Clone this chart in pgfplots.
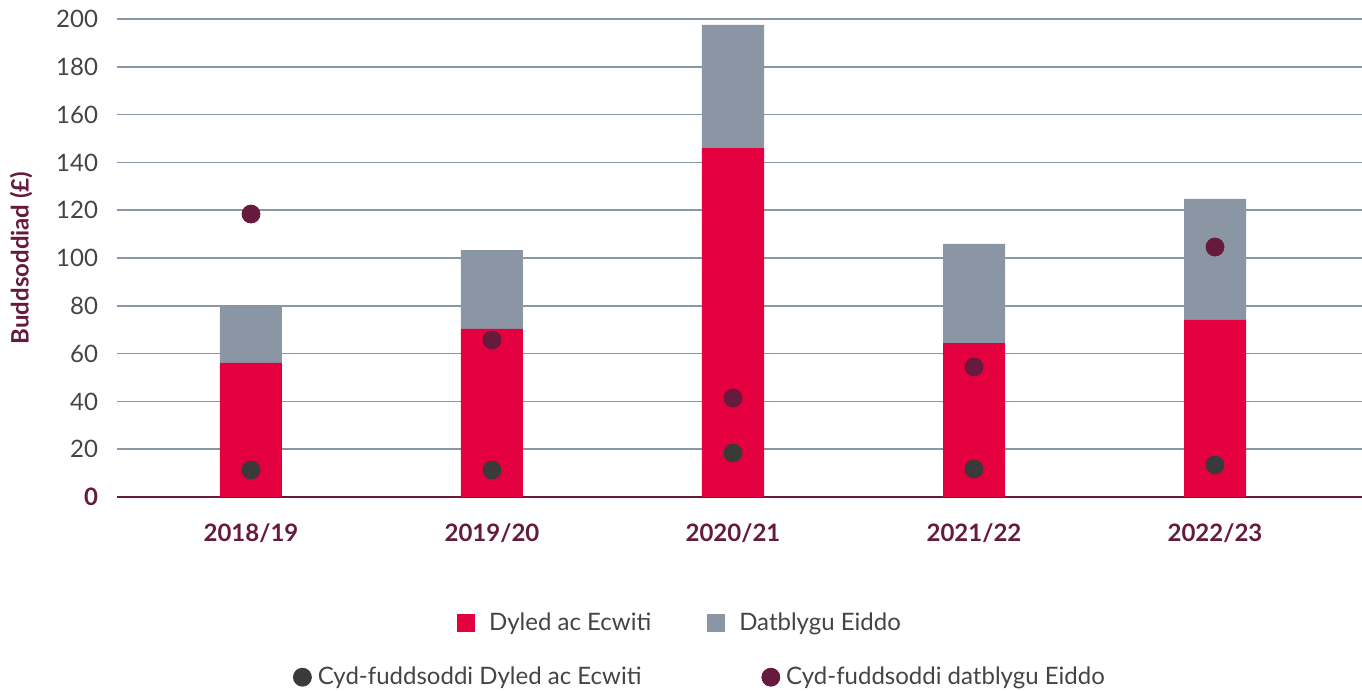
\documentclass[border=0pt]{standalone}
\usepackage{fontspec}
\setmainfont{Lato}
\usepackage{pgfplots}
\pgfplotsset{compat=1.18}

\definecolor{cred}{HTML}{E4003F}
\definecolor{cgrey}{HTML}{8A96A3}
\definecolor{cdark}{HTML}{3A3A3A}
\definecolor{cplum}{HTML}{661A3D}
\definecolor{ctick}{HTML}{444444}

\pgfplotsset{
  base/.style={
    scale only axis,
    width=622.5pt, height=239pt,
    xmin=-0.556, xmax=4.61,
    ymin=0, ymax=200,
  },
  sqlegend/.style={legend image code/.code={\fill[##1] (0pt,-4.5pt) rectangle (9pt,4.5pt);}},
  dotlegend/.style={legend image code/.code={\fill[##1] (4.5pt,0pt) circle (4.5pt);}},
}

\begin{document}
\begin{tikzpicture}
\begin{axis}[
  base,
  name=main,
  ybar stacked,
  bar width=31pt,
  axis lines=left,
  y axis line style={draw=none},
  x axis line style={draw=cplum, line width=0.8pt, -},
  major tick length=0pt,
  ymajorgrids,
  grid style={cgrey, line width=0.75pt},
  xtick={0,1,2,3,4},
  xticklabels={2018/19,2019/20,2020/21,2021/22,2022/23},
  xticklabel style={font=\fontsize{12}{14}\selectfont\bfseries, text=cplum, yshift=-10pt},
  ytick={0,20,...,200},
  yticklabels={{\textbf{\color{cplum}0}},20,40,60,80,100,120,140,160,180,200},
  yticklabel style={font=\fontsize{12}{14}\selectfont, text=ctick, xshift=-6pt},
  ylabel={Buddsoddiad (£)},
  ylabel style={at={(axis description cs:-0.077,0.5)}, anchor=center, font=\fontsize{12}{14}\selectfont\bfseries, text=cplum},
  legend style={draw=none, fill=none, at={(0.453,-0.264)}, anchor=center,
    font=\fontsize{12}{14}\selectfont, text=ctick, legend columns=2,
    /tikz/every odd column/.append style={column sep=5pt},
    /tikz/every even column/.append style={column sep=26pt}},
  sqlegend,
]
\addplot[fill=cred, draw=none] coordinates {(0,56.1) (1,70.3) (2,146.0) (3,64.4) (4,74.1)};
\addplot[fill=cgrey, draw=none] coordinates {(0,23.8) (1,33.0) (2,51.5) (3,41.5) (4,50.6)};
\legend{Dyled ac Ecwiti, Datblygu Eiddo}
\end{axis}

\begin{axis}[
  base,
  hide axis,
  legend style={draw=none, fill=none, at={(0.469,-0.377)}, anchor=center,
    font=\fontsize{12}{14}\selectfont, text=ctick, legend columns=2,
    /tikz/every odd column/.append style={column sep=1pt},
    /tikz/every even column/.append style={column sep=58pt}},
  dotlegend,
]
\addplot[only marks, mark=*, mark size=4.5pt, color=cdark] coordinates {(0,11.3) (1,11.3) (2,18.4) (3,11.7) (4,13.4)};
\addplot[only marks, mark=*, mark size=4.5pt, color=cplum] coordinates {(0,118.4) (1,65.7) (2,41.4) (3,54.4) (4,104.6)};
\legend{Cyd-fuddsoddi Dyled ac Ecwiti, Cyd-fuddsoddi datblygu Eiddo}
\end{axis}

\pgfresetboundingbox
\path ([xshift=-58.5pt,yshift=-96.5pt]main.south west) rectangle ([yshift=9.5pt]main.north east);
\end{tikzpicture}
\end{document}
